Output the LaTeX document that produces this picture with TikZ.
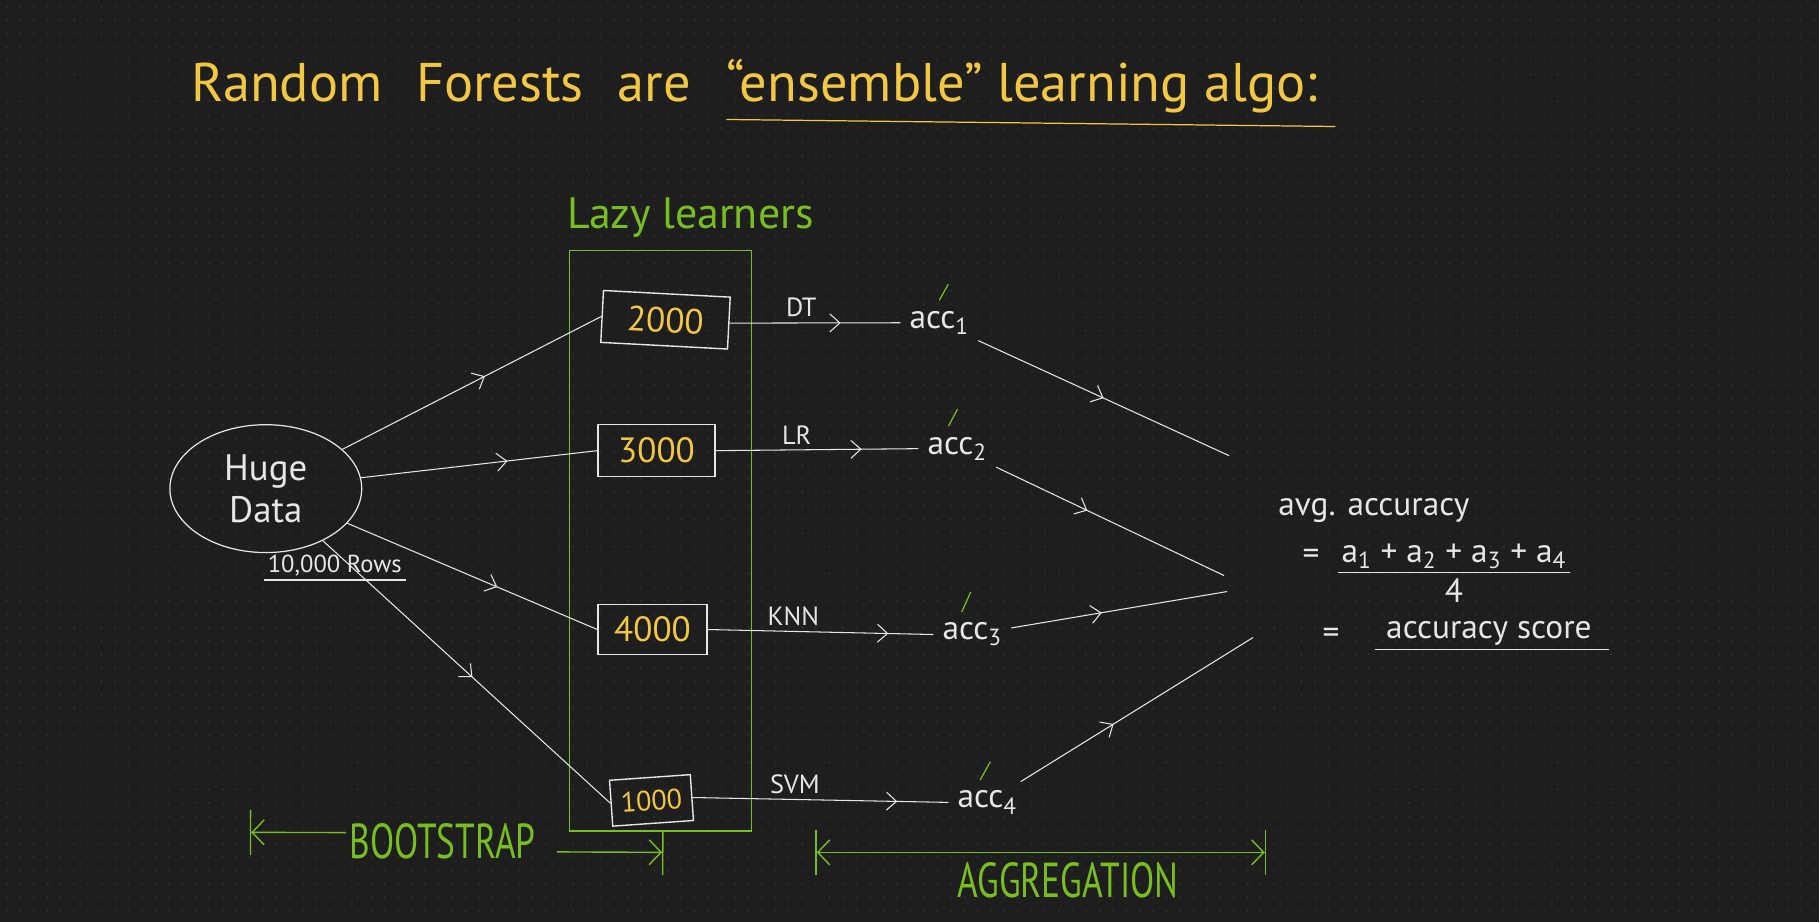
\documentclass[tikz,border=0pt]{standalone}
\usepackage{fontspec}
\setmainfont{PT Sans}
\newfontfamily\narrowhand[FakeStretch=0.72]{PT Sans}
\usetikzlibrary{arrows.meta,shapes.geometric,positioning,decorations.markings}
\definecolor{board}{HTML}{1E1E1E}
\definecolor{boardDot}{HTML}{2B2B2B}
\definecolor{chalk}{HTML}{E6E6E6}
\definecolor{penYellow}{HTML}{F2C744}
\definecolor{penGreen}{HTML}{78BE20}

\begin{document}
\begin{tikzpicture}[
  x=0.02cm, y=-0.02cm,
  wire/.style={draw=chalk,line width=0.6pt},
  midarr/.style={wire,postaction={decorate},
    decoration={markings,mark=at position #1 with
      {\arrow{Straight Barb[length=2mm,width=3.6mm]}}}},
  midarr/.default=0.55,
  sample/.style={draw=chalk,line width=0.8pt,text=penYellow,
                 font=\fontsize{20}{20}\selectfont,inner sep=2pt},
  lazybox/.style={draw=penGreen,line width=0.9pt,
                  minimum width=3.64cm,minimum height=11.62cm},
  chalktxt/.style={text=chalk,font=\fontsize{19}{22}\selectfont,inner sep=2pt},
  model/.style={text=chalk,font=\fontsize{15}{15}\selectfont,inner sep=3pt},
  acc/.style={text=chalk,font=\fontsize{19}{19}\selectfont,inner sep=5pt},
  okmark/.style={draw=penGreen,line width=0.7pt},
  greentxt/.style={text=penGreen,font=\fontsize{25}{25}\selectfont},
  heading/.style={anchor=base west,text=penYellow,
                  font=\fontsize{31}{31}\selectfont,inner sep=0pt},
  span/.style={draw=penGreen,line width=0.8pt},
]
  % board
  \fill[board] (0,0) rectangle (1820,923);
  \foreach \gy in {7,20.5,...,923}
    \draw[boardDot,line width=1.6pt,line cap=round,dash pattern=on 0pt off 7.68pt] (7,\gy) -- (1820,\gy);
  \useasboundingbox (0,0) rectangle (1820,923);

  % title
  \node[heading] (title1) at (191,102) {Random\hspace{0.62em}Forests\hspace{0.62em}are};
  \node[heading] (title2) at (727,102) {“ensemble” learning algo:};
  \draw[draw=penYellow,line width=0.7pt] ([yshift=-10pt]title2.base west) -- ([xshift=10pt,yshift=-14pt]title2.base east);

  % lazy learners
  \node[lazybox] (lazy) at (661,541) {};
  \node[greentxt] (lazylbl) at (691,218) {Lazy learners};

  \node[sample,minimum width=2.54cm,minimum height=1.04cm,rotate=-3] (s2000) at (666,320) {2000};
  \node[sample,minimum width=2.34cm,minimum height=1.04cm] (s3000) at (657,451) {3000};
  \node[sample,minimum width=2.18cm,minimum height=1.0cm] (s4000) at (653,630) {4000};
  \node[sample,minimum width=1.62cm,minimum height=0.92cm,rotate=4,
        font=\fontsize{16}{16}\selectfont] (s1000) at (652,801) {1000};

  % data
  \node[draw=chalk,line width=0.7pt,ellipse,minimum width=3.84cm,minimum height=2.56cm,
        align=center,text=chalk,font=\fontsize{21}{24}\selectfont] (data) at (266,489) {Huge\\Data};
  \node[chalktxt,font=\fontsize{14}{14}\selectfont] (rows) at (335,566) {10,000 Rows};
  \draw[wire] (rows.south west) -- (rows.south east);

  \draw[midarr=0.55] (data) -- (s2000.west);
  \draw[midarr=0.62] (data) -- (s3000.west);
  \draw[midarr=0.6] (data) -- (s4000.west);
  \draw[midarr=0.52] (data) -- (s1000.west);

  % accuracies
  \node[acc] (acc1) at (940,323) {acc\textsubscript{1}};
  \node[acc] (acc2) at (958,449) {acc\textsubscript{2}};
  \node[acc] (acc3) at (973,635) {acc\textsubscript{3}};
  \node[acc] (acc4) at (988,803) {acc\textsubscript{4}};

  \draw[midarr=0.65] (s2000.east) -- node[model,above,pos=0.42] {DT} (acc1.west);
  \draw[midarr=0.72] (s3000.east) -- node[model,above,pos=0.4] {LR} (acc2.west);
  \draw[midarr=0.8] (s4000.east) -- node[model,above,pos=0.38] {KNN} (acc3.west);
  \draw[midarr=0.8] (s1000.east) -- node[model,above,pos=0.4] {SVM} (acc4.west);

  \draw[okmark] ([yshift=1pt]acc1.north) -- ++(9,-16);
  \draw[okmark] ([xshift=-5pt,yshift=1pt]acc2.north) -- ++(9,-17);
  \draw[okmark] ([xshift=-6pt,yshift=1pt]acc3.north) -- ++(9,-20);
  \draw[okmark] ([xshift=-4pt,yshift=1pt]acc4.north) -- ++(10,-18);

  % aggregation
  \coordinate (g1) at (1230,456);
  \coordinate (g2) at (1225,576);
  \coordinate (g3) at (1228,592);
  \coordinate (g4) at (1254,638);
  \draw[midarr=0.5] (acc1) -- (g1);
  \draw[midarr=0.4] (acc2) -- (g2);
  \draw[midarr=0.42] (acc3) -- (g3);
  \draw[midarr=0.4] (acc4) -- (g4);

  \node[chalktxt] (avgacc) at (1375,511) {avg. accuracy};
  \node[chalktxt] (numer) at (1455,557)
    {a\textsubscript{1} + a\textsubscript{2} + a\textsubscript{3} + a\textsubscript{4}};
  \node[chalktxt] (eq1) at (1312,557) {=};
  \draw[wire] (numer.south west) -- (numer.south east);
  \node[chalktxt,below=1pt of numer] (den) {4};
  \node[chalktxt] (score) at (1490,634) {accuracy score};
  \node[chalktxt] (eq2) at (1332,636) {=};
  \draw[wire] ([xshift=-4pt]score.south west) -- ([xshift=8pt]score.south east);

  % bootstrap / aggregation spans
  \node[text=penGreen,font=\narrowhand\fontsize{28}{28}\selectfont,inner sep=2pt] (boot) at (443,842) {BOOTSTRAP};
  \coordinate (bootL) at (250,833);
  \coordinate (bootR) at (664,853);
  \draw[span,-{Straight Barb[length=2.4mm,width=5mm] Bar[width=9mm]}] ([yshift=5pt]boot.west) -- (bootL);
  \draw[span,-{Straight Barb[length=2.4mm,width=5mm] Bar[width=9mm]}] ([xshift=10pt,yshift=-6pt]boot.east) -- (bootR);

  \coordinate (aggL) at (816,853);
  \coordinate (aggR) at (1267,853);
  \draw[span,{Bar[width=9mm] Straight Barb[length=2.4mm,width=5mm]}-{Straight Barb[length=2.4mm,width=5mm] Bar[width=9mm]}] (aggL) -- (aggR);
  \node[text=penGreen,font=\narrowhand\fontsize{28}{28}\selectfont,inner sep=2pt] (agg) at (1069,881) {AGGREGATION};
\end{tikzpicture}
\end{document}
